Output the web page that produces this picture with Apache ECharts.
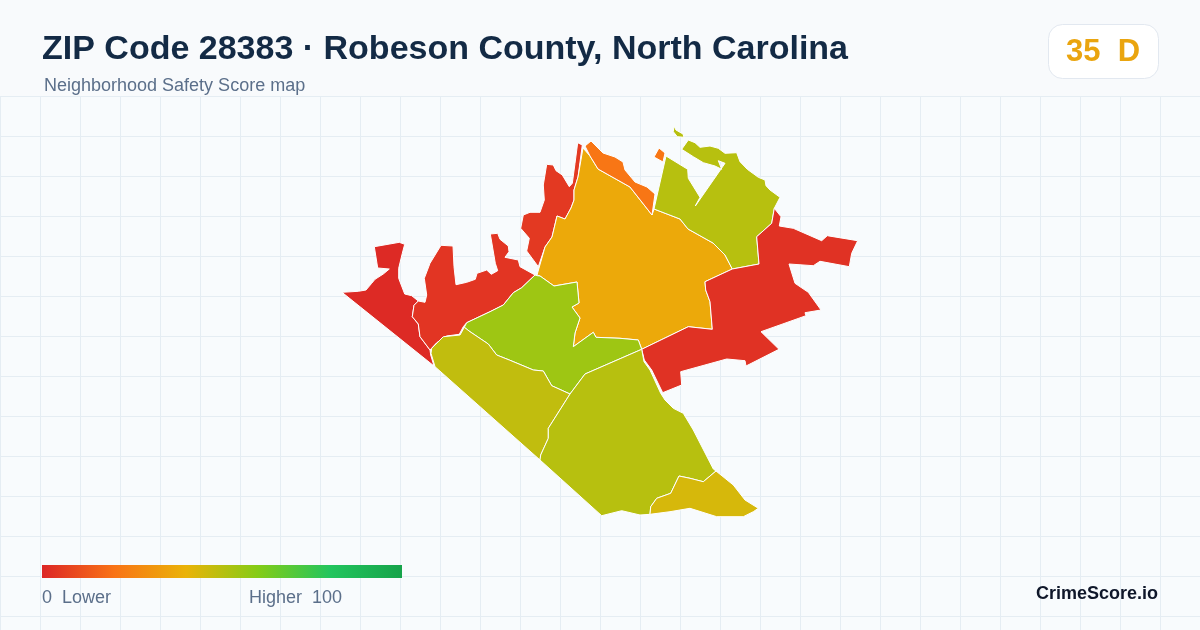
<!DOCTYPE html>
<html>
<head>
<meta charset="utf-8">
<title>ZIP Code 28383</title>
<script src="https://cdn.jsdelivr.net/npm/echarts@6/dist/echarts.min.js"></script>
<style>
html,body{margin:0;padding:0;background:#f8fafc;}
#chart{width:1200px;height:630px;}
</style>
</head>
<body>
<div id="chart"></div>
<script>
var titleText = "ZIP Code 28383 · Robeson County, North Carolina";
var subtitleText = "Neighborhood Safety Score map";
var overallScore = 35;
var overallGrade = "D";
var brandText = "CrimeScore.io";
var legendLow = "0  Lower";
var legendHigh = "Higher  100";
var scoreColors = ["#dc2626","#f97316","#eab308","#84cc16","#22c55e","#16a34a"];

// 各区域得分,读图估计
var tractNames = ["West","Northwest","North strip","Central","North sliver","Northeast","East","Midwest","Southwest","South","Far south"];
var tractScores = [1, 4, 5, 37, 21, 50, 3, 55, 48, 50, 44];

// 区域轮廓(地图单位)
var westRing = [[342,292.3],[358.3,291.3],[366,290],[371.7,283.3],[375,279.3],[383.3,274],[389.3,269],[377.7,268],[374.3,246.7],[399.3,242.3],[404.7,244.3],[402.3,253.3],[398.7,268.3],[398.7,278.3],[404.7,294],[411.7,295.7],[418.3,301],[414,305.3],[412.3,316.7],[418.3,324],[420,336.7],[430,350],[430.7,355],[434,366]];
var northwestRing = [[418.3,301],[425,302.3],[426.7,295],[424.3,278.3],[430,263.3],[441,245.3],[453,246],[454,266.7],[456,284.7],[466.7,282.3],[475.3,279.3],[477,273.3],[486.7,270],[491.3,274.3],[497.7,270.7],[495.3,263.3],[490.3,234],[497.7,233.3],[500,239.3],[508.3,246],[509,251.7],[505,257.3],[518.3,260],[520,266.7],[535,275],[521.7,287.7],[513.3,292.7],[503.3,305],[490,311.7],[466.7,322.7],[463.3,326.7],[459.3,334.3],[446.7,336],[436.7,342.7],[430,350],[420,336.7],[418.3,324],[412.3,316.7],[414,305.3]];
var northStripRing = [[538.3,266.7],[526.7,251],[529.3,238.3],[520.7,228.3],[523.3,215],[530,212.3],[540,212.3],[544.3,200],[543.3,185],[546.7,164.3],[553.3,165],[556,170.7],[562.3,175],[569.3,186.7],[572.3,183.3],[575,163.3],[577.7,142.7],[582.3,145],[578,177],[574,190],[574,200],[571,208],[565,219],[557,216],[552,237],[545,247]];
var centralRing = [[583,148],[590,156],[598,169],[630,187],[652,215],[654,209],[680,219],[688,229],[713,243],[725,255],[732.3,269],[705,281.7],[705.7,290],[710,301.7],[712.3,329.3],[688.3,326.7],[641.7,349.3],[638.3,340],[620,338.3],[596,337.3],[593.3,332.3],[573.3,346.7],[575,333],[580,318],[572,307],[579,303],[577,282],[554,286],[540,276],[537,275],[545,247],[552,237],[557,216],[565,219],[571,208],[574,200],[574,190],[578,177]];
var sliverRing = [[585,146],[591,141],[603,153],[615,157],[623,162],[625,170],[635,182],[647,187],[655,194],[652,215],[630,187],[598,169],[590,156]];
var sliverIsland = [[659,148],[665,153],[663,162],[654,157]];
var northeastRing = [[666,156],[687.7,169.3],[688.3,178.3],[700,197.3],[695.3,206],[725,163.3],[718.3,160.7],[721.7,169.3],[715,166],[703.3,162.7],[693.3,156.7],[681.7,149.3],[688.3,140],[695,142.7],[700,147.3],[710,146],[718.3,148.3],[725,153.3],[736.7,152.7],[740,161.7],[747.3,169.3],[758.3,177.3],[765,180],[766,185.7],[770,190],[780,197.3],[774.3,208.3],[771.7,223.3],[756.7,236.7],[759,264],[732.3,269],[725,255],[713,243],[688,229],[680,219],[654,209]];
var northeastIsland = [[674,126],[676,130],[683,134],[684,137.3],[677.3,136.7],[673.3,131.7]];
var eastRing = [[774.3,208.3],[781,216.7],[779.3,226],[793.3,228.3],[821.7,240.7],[827.3,235.7],[857.7,240.7],[851.7,253.3],[849.3,266.7],[820,261.3],[813.3,265.7],[789,264],[795,283.3],[808.3,292.3],[821,310],[805,312.7],[806,315.7],[761,331.7],[779,349.3],[746,366],[745,360.7],[726.7,359],[680.7,371.7],[681.7,385],[662.7,392.7],[651.7,370],[644.3,360],[641.7,349.3],[688.3,326.7],[712.3,329.3],[710,301.7],[705.7,290],[705,281.7],[732.3,269],[759,264],[756.7,236.7],[771.7,223.3]];
var midwestRing = [[537.3,275.7],[540,276],[554,286],[577,282],[579,303],[572,307],[580,318],[575,333],[573.3,346.7],[593.3,332.3],[596,337.3],[620,338.3],[638.3,340],[641.7,349.3],[585,374],[570,394],[551.7,385.7],[543.3,371],[533.3,370],[509.3,360],[496.7,355],[488.3,344],[470,331.7],[464.3,327.3],[463.3,326.7],[466.7,322.7],[490,311.7],[503.3,305],[513.3,292.7],[521.7,287.7],[535,275]];
var southwestRing = [[464.3,327.3],[460,335],[443.3,336.7],[431.7,348.3],[431,353.3],[435,366.7],[540,460],[540.7,455],[548.3,438.3],[548.3,428.3],[570,394],[551.7,385.7],[543.3,371],[533.3,370],[509.3,360],[496.7,355],[488.3,344],[470,331.7]];
var southRing = [[585,374],[641.7,349.3],[644,361.7],[650,370],[660.7,393.3],[665,400],[673.3,408.3],[683.3,413.3],[693.3,430],[713.3,469],[716,471],[703.3,481.7],[690,478.3],[679,476],[670.7,493.3],[656.7,498.3],[650.7,506.7],[650,514.3],[640,515],[621.7,510.7],[601.7,515.7],[540,460],[540.7,455],[548.3,438.3],[548.3,428.3],[570,394]];
var farSouthRing = [[716,471],[733.3,485],[745,500],[758.3,508.3],[753.3,511.7],[743.3,516.7],[716.7,516.7],[690,508.3],[670,511.7],[650,514.3],[650.7,506.7],[656.7,498.3],[670.7,493.3],[679,476],[690,478.3],[703.3,481.7]];

var tractShapes = [
	[westRing],[northwestRing],[northStripRing],[centralRing],[sliverRing,sliverIsland],
	[northeastRing,northeastIsland],[eastRing],[midwestRing],[southwestRing],[southRing],[farSouthRing]
];

// 组装 geojson
var features = [];
var seriesData = [];
for(var i = 0; i < tractNames.length; i++){
	var polys = [];
	for(var j = 0; j < tractShapes[i].length; j++){
		var ring = tractShapes[i][j].slice();
		ring.push(ring[0]);
		polys.push([ring]);
	}
	features.push({type:"Feature",properties:{name:tractNames[i]},geometry:{type:"MultiPolygon",coordinates:polys}});
	seriesData.push({name:tractNames[i],value:tractScores[i]});
}
echarts.registerMap("zip28383",{type:"FeatureCollection",features:features});

// 图例渐变
var legendStops = [];
for(var k = 0; k < scoreColors.length; k++){
	legendStops.push({offset:k/(scoreColors.length-1),color:scoreColors[k]});
}

var chart = echarts.init(document.getElementById("chart"));
var textFont = "'Liberation Sans', Arial, sans-serif";
var option = {
	animation: false,
	backgroundColor: "#f8fafc",
	title: [
		{text:titleText,left:42,top:33,padding:0,textStyle:{fontFamily:textFont,fontSize:34,fontWeight:"bold",color:"#132a45"}},
		{text:subtitleText,left:44,top:77,padding:0,textStyle:{fontFamily:textFont,fontSize:18,fontWeight:"normal",color:"#5b6f8a"}}
	],
	grid: {left:0,right:0,top:96,bottom:0,show:true,backgroundColor:"#f8fbfd",borderWidth:0},
	xAxis: {type:"value",min:0,max:1200,interval:40,axisLine:{show:false},axisTick:{show:false},axisLabel:{show:false},splitLine:{lineStyle:{color:"#e5edf3",width:1}}},
	yAxis: {type:"value",inverse:true,min:0,max:534,interval:40,axisLine:{show:false},axisTick:{show:false},axisLabel:{show:false},splitLine:{lineStyle:{color:"#e5edf3",width:1}}},
	visualMap: {
		type:"continuous",show:false,seriesIndex:0,min:0,max:100,inRange:{color:scoreColors}
	},
	series: [{
		type:"map",map:"zip28383",silent:true,selectedMode:false,
		projection:{project:function(p){return p;},unproject:function(p){return p;}},
		left:342,top:126,width:515.7,height:390.7,
		label:{show:false},emphasis:{disabled:true},
		itemStyle:{borderColor:"#ffffff",borderWidth:1},
		data:seriesData
	}],
	graphic: [
		{type:"rect",z:20,left:1048,top:24,shape:{width:110,height:54,r:14},style:{fill:"#ffffff",stroke:"#e2e8f0",lineWidth:1}},
		{type:"text",z:21,left:1066,top:37,style:{text:overallScore+"  "+overallGrade,font:"bold 31px "+textFont,fill:"#eaa50f"}},
		{type:"rect",z:20,left:42,top:565,shape:{width:360,height:13},style:{fill:new echarts.graphic.LinearGradient(0,0,1,0,legendStops)}},
		{type:"text",z:21,left:42,top:589,style:{text:legendLow,font:"18px "+textFont,fill:"#5b6f8a"}},
		{type:"text",z:21,left:249,top:589,style:{text:legendHigh,font:"18px "+textFont,fill:"#5b6f8a"}},
		{type:"text",z:21,right:42,top:585,style:{text:brandText,font:"bold 18px "+textFont,fill:"#0f172a"}}
	]
};
chart.setOption(option);
</script>
</body>
</html>
